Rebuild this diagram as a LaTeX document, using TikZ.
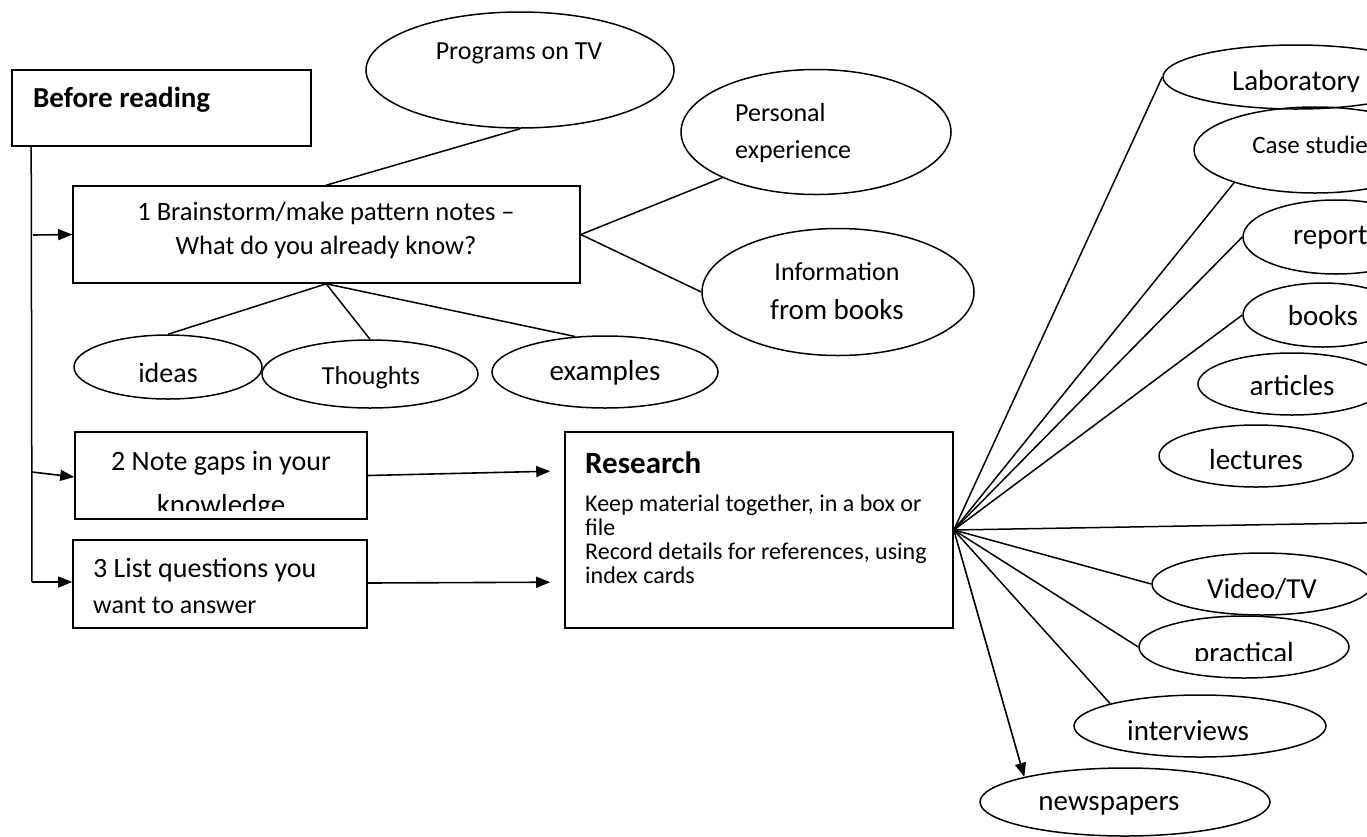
\documentclass[tikz,border=0pt]{standalone}
\usepackage{fontspec}
\setmainfont{Carlito}
\usetikzlibrary{shapes.geometric,arrows.meta,calc}
\begin{document}
\begin{tikzpicture}[x=1pt,y=-1pt,
  bx/.style={draw, line width=1.6pt, rectangle, inner sep=0pt},
  ell/.style={draw, ellipse, line width=1.5pt, inner sep=0pt},
  con/.style={line width=1.5pt},
  arr/.style={line width=1.6pt, -{Triangle[length=14pt,width=11pt]}},
  fs/.style={inner sep=0pt, font=\fontsize{#1}{#1}\selectfont},
  fsb/.style={inner sep=0pt, font=\fontsize{#1}{#1}\selectfont\bfseries}]
\useasboundingbox (0,0) rectangle (1367,836);
\clip (0,0) rectangle (1367,836);

% boxes
\node[bx, minimum width=299pt, minimum height=76pt] (br) at (161.5,108) {};
\node[bx, minimum width=507pt, minimum height=97pt] (b1) at (326.5,234.5) {};
\node[bx, minimum width=292pt, minimum height=87pt] (b2) at (221,475.5) {};
\node[bx, minimum width=294pt, minimum height=88pt] (b3) at (220,584) {};
\node[bx, minimum width=388pt, minimum height=196pt] (res) at (759,530) {};

% ellipses
\node[ell, minimum width=308pt, minimum height=116pt] (prog) at (520,70) {};
\node[ell, minimum width=270pt, minimum height=125pt] (pers) at (816,132) {};
\node[ell, minimum width=272pt, minimum height=127pt] (info) at (838,292) {};
\node[ell, minimum width=188pt, minimum height=64pt] (ideas) at (168,367) {};
\node[ell, minimum width=216pt, minimum height=68pt] (thou) at (370,374) {};
\node[ell, minimum width=226pt, minimum height=72pt] (exam) at (605,372) {};
\node[ell, minimum width=266pt, minimum height=64pt] (lab) at (1296,77) {};
\node[ell, minimum width=242pt, minimum height=86pt] (case) at (1315,150) {};
\node[ell, minimum width=186pt, minimum height=74pt] (rep) at (1336,237) {};
\node[ell, minimum width=160pt, minimum height=64pt] (books) at (1323,315) {};
\node[ell, minimum width=188pt, minimum height=62pt] (art) at (1292,384) {};
\node[ell, minimum width=194pt, minimum height=62pt] (lect) at (1256,456) {};
\node[ell, minimum width=220pt, minimum height=62pt] (video) at (1262,584) {};
\node[ell, minimum width=210pt, minimum height=62pt] (prac) at (1244,647) {};
\node[ell, minimum width=252pt, minimum height=62pt] (intv) at (1200,726) {};
\node[ell, minimum width=290pt, minimum height=68pt] (news) at (1125,802) {};

% texts
\node[fsb=29, anchor=west] (tbr) at (33,100) {Before reading};
\node[fs=26.5] (tb1a) at (326,213) {1 Brainstorm/make pattern notes –};
\node[fs=26.5] (tb1b) at (326,247) {What do you already know?};
\node[fs=26] (tprog) at (519,53) {Programs on TV};
\node[fs=26, anchor=west] (tpers1) at (735,113) {Personal};
\node[fs=26, anchor=west] (tpers2) at (735,152) {experience};
\node[fs=26] (tinfo1) at (837,272) {Information};
\node[fs=29] (tinfo2) at (837,310) {from books};
\node[fs=28] (tideas) at (168,373) {ideas};
\node[fs=26] (tthou) at (371,378) {Thoughts};
\node[fs=29] (texam) at (605,373) {examples};
\node[fs=28] (tb2a) at (221,463) {2 Note gaps in your};
\begin{scope}
  \clip (b2.north west) rectangle (367,510);
  \node[fs=29, anchor=base] (tb2b) at (221,514) {knowledge};
\end{scope}
\node[fs=28, anchor=west] (tb3a) at (93,570) {3 List questions you};
\node[fs=26, anchor=west] (tb3b) at (93,605) {want to answer};
\node[fsb=31, anchor=base west] (tres) at (585,473) {Research};
\node[anchor=north west, inner sep=0pt, align=left, font=\fontsize{24}{24}\selectfont] (tbody) at (585,495)
  {Keep material together, in a box or\\file\\Record details for references, using\\index cards};

\begin{scope}
  \clip (1100,40) rectangle (1400,91);
  \node[fs=29, anchor=base] (tlab) at (1296,90) {Laboratory};
\end{scope}
\node[fs=25] (tcase) at (1315,145) {Case studies};
\node[fs=29] (trep) at (1336,238) {reports};
\node[fs=29] (tbooks) at (1323,316) {books};
\node[fs=29] (tart) at (1292,386) {articles};
\node[fs=29] (tlect) at (1256,460) {lectures};
\node[fs=29] (tvid) at (1262,589) {Video/TV};
\begin{scope}
  \clip (1100,600) rectangle (1400,660);
  \node[fs=29, anchor=base] (tprac) at (1244,662) {practical};
\end{scope}
\node[fs=29] (tintv) at (1188,731) {interviews};
\node[fs=29] (tnews) at (1109,806) {newspapers};

% coordinates
\coordinate (vtop) at ($(br.south west)+(20,0)$);
\coordinate (vbot) at (32,582);
\coordinate (a1) at (33,235);
\coordinate (a2) at (32,472);
\coordinate (b1t) at ($(b1.north west)+(254,0)$);
\coordinate (b1b) at ($(b1.south west)+(254,0)$);
\coordinate (hub) at (res.east);
\coordinate (offr) at (1420,522);

% connectors
\draw[con] (vtop) -- (vbot);
\draw[arr] (a1) -- (b1.west);
\draw[arr] (a2) -- ($(b2.west)+(0,1.5)$);
\draw[arr] (vbot) -- ($(b3.west)+(0,-2)$);
\draw[con] (prog.south) -- (b1t);
\draw[con] (b1.east) -- (pers.206);
\draw[con] (b1.east) -- (info.west);
\draw[con] (b1b) -- (ideas.north);
\draw[con] (b1b) -- (thou.north);
\draw[con] (b1b) -- (exam.130);
\draw[arr] (b2.east) -- ($(res.north west)+(-14,40)$);
\draw[arr] ($(b3.east)+(0,-1)$) -- ($(res.north west)+(-14,151)$);
\draw[con] (hub) -- (lab.west);
\draw[con] (hub) -- (case.202);
\draw[con] (hub) -- (rep.west);
\draw[con] (hub) -- (books.west);
\draw[con] (hub) -- (offr);
\draw[con] (hub) -- (video.west);
\draw[con] (hub) -- (prac.west);
\draw[con] (hub) -- (intv.166);
\draw[arr] (hub) -- (news.166);
\end{tikzpicture}
\end{document}
